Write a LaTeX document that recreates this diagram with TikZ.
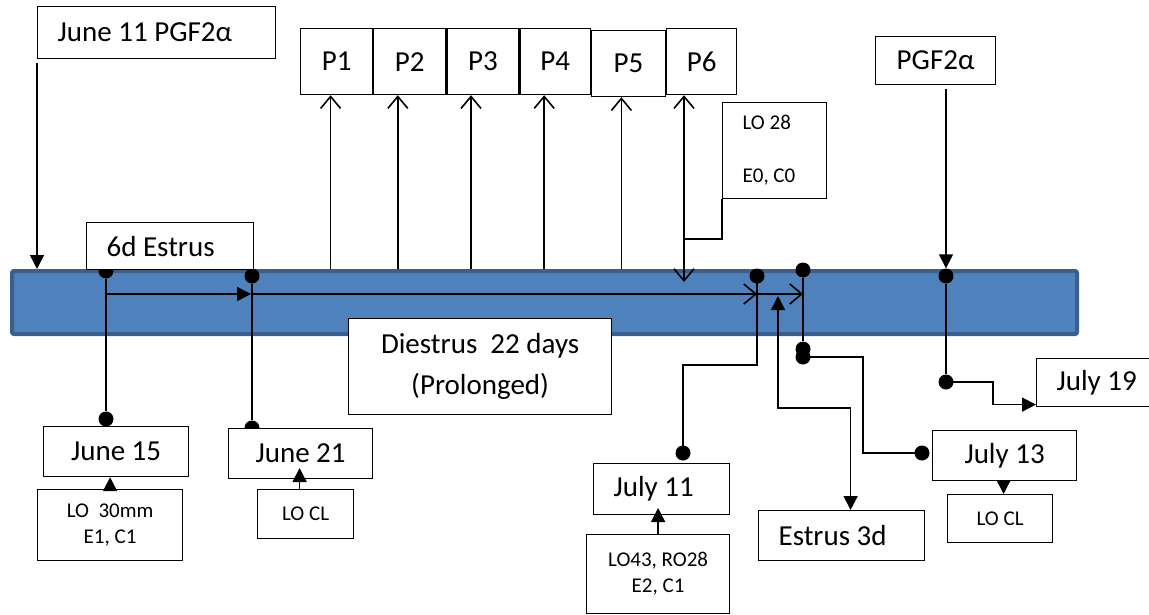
\documentclass[tikz,border=0pt]{standalone}
\usepackage{fontspec}
\setmainfont{Carlito}
\usetikzlibrary{positioning,arrows.meta}
\definecolor{barFill}{HTML}{4F81BD}
\definecolor{barLine}{HTML}{3B5E8C}
\newcommand\dateFont{\fontsize{29}{34}\selectfont}
\newcommand\noteFont{\fontsize{21}{26}\selectfont}
\pgfdeclarelayer{barlayer}
\pgfdeclarelayer{linelayer}
\pgfsetlayers{barlayer,linelayer,main}
\tikzset{
  cycle bar/.style={
    rectangle, rounded corners=2pt,
    draw=barLine, fill=barFill, line width=4pt,
    inner sep=0pt, anchor=north west,
  },
  date box/.style={
    rectangle, draw=black, fill=white, line width=1.2pt,
    font=\dateFont, inner sep=0pt, anchor=north west,
  },
  left box/.style={date box, inner xsep=20pt, align=flush left},
  note box/.style={date box, font=\noteFont, align=center},
  conn/.style={line width=1.6pt},
  solid tip/.style={conn, -{Triangle[length=14pt,width=14pt]}},
  solid both/.style={conn, {Triangle[length=14pt,width=14pt]}-{Triangle[length=14pt,width=14pt]}},
  barb tip/.style={conn, -{Straight Barb[length=12pt,width=20pt]}},
  barb both/.style={conn, {Straight Barb[length=12pt,width=20pt]}-{Straight Barb[length=12pt,width=20pt]}},
  dot/.style={circle, fill=black, inner sep=0pt, minimum size=15pt},
}

\begin{document}
\begin{tikzpicture}[x=1pt, y=-1pt]
\useasboundingbox (0,0) rectangle (1149,615);

% --- top boxes ---
\node[left box, text width=198pt, minimum height=52pt] (june11) at (37,6) {June 11 PGF2α};
\node[left box, text width=127pt, minimum height=47pt] (estrus6) at (86,222) {6d Estrus};
\node[date box, minimum width=72pt, minimum height=66pt] (p1) at (300,28) {P1};
\node[date box, minimum width=72pt, minimum height=66pt, right=0pt of p1] (p2) {P2};
\node[date box, minimum width=72pt, minimum height=66pt, right=0pt of p2] (p3) {P3};
\node[date box, minimum width=70pt, minimum height=66pt, right=0pt of p3] (p4) {P4};
\node[date box, minimum width=74pt, minimum height=66pt, right=0pt of p4, yshift=-2pt] (p5) {P5};
\node[date box, minimum width=70pt, minimum height=66pt, right=0pt of p5, yshift=2pt] (p6) {P6};
\node[left box, font=\noteFont, text width=64pt, minimum height=96pt] (lo28) at (722,102) {LO 28\\[27pt]E0, C0};
\node[date box, minimum width=120pt, minimum height=48pt] (pgfR) at (875,36) {PGF2α};

% --- middle and bottom boxes ---
\node[date box, align=center, minimum width=263pt, minimum height=96pt] (diestrus) at (348,318) {Diestrus\ \ 22 days\\[7pt](Prolonged)};
\node[date box, minimum width=145pt, minimum height=50pt] (j15) at (43,426) {June 15};
\node[note box, minimum width=145pt, minimum height=71pt] (lo30) at (37,489) {LO\ \ 30mm\\E1, C1};
\node[date box, minimum width=144pt, minimum height=50pt] (j21) at (228,428) {June 21};
\node[note box, minimum width=96pt, minimum height=49pt] (locl1) at (257,489) {LO CL};
\node[left box, text width=96pt, minimum height=51pt] (j11) at (593,463) {July 11};
\node[note box, minimum width=143pt, minimum height=79pt] (lo43) at (586,534) {LO43, RO28\\E2, C1};
\node[left box, text width=126pt, minimum height=50pt] (estrus3) at (758,510) {Estrus 3d};
\node[date box, minimum width=144pt, minimum height=50pt] (j13) at (932,430) {July 13};
\node[note box, minimum width=105pt, minimum height=48pt] (locl2) at (947,494) {LO CL};
\node[left box, text width=90pt, minimum height=48pt] (j19) at (1036,358) {July 19};

% --- the cycle bar ---
\begin{pgfonlayer}{barlayer}
\node[cycle bar, minimum width=1065pt, minimum height=63pt] (bar) at (10,269) {};
\end{pgfonlayer}

\begin{pgfonlayer}{linelayer}
% dots
\node[dot] (e6dot) at (106,271) {};
\node[dot] (j15dot) at (106,419) {};
\node[dot] (j21top) at (252,276) {};
\node[dot] (j21dot) at (252,428) {};
\node[dot] (j11top) at (757,276) {};
\node[dot] (j11dot) at (683,453) {};
\node[dot] (e3top) at (803,270) {};
\node[dot] (e3mid) at (803,349) {};
\node[dot] (e3low) at (803,357) {};
\node[dot] (j13dot) at (922,453) {};
\node[dot] (pgtop) at (946,276) {};
\node[dot] (pgbot) at (946,382) {};
\coordinate (t0) at (106,294);
\coordinate (t1) at (251,294);
\coordinate (t2) at (757,294);
\coordinate (t3) at (803,294);
\coordinate (p6tip) at (684,282);
\coordinate (p6join) at (684,239);
\coordinate (e3tip) at (778,296);

% PGF2a shots onto the bar
\draw[solid tip] ([yshift=-4pt]june11.south west) -- (june11.south west |- bar.north);
\draw[solid tip] ([yshift=-4pt]pgfR.south -| pgtop) -- (pgtop.north);

% timeline along the bar
\draw[solid tip] (t0) -- (t1);
\draw[barb tip] (t1) -- (t2);
\draw[barb tip] (t2) -- (t3);

% P checks
\foreach \i/\dx in {1/-6,2/-12,3/-12,4/-11,5/-7}
  \draw[barb tip] ([xshift=\dx pt]p\i.south |- bar.north) -- ([xshift=\dx pt]p\i.south);
\draw[barb both] (p6.south -| p6tip) -- (p6tip);
\draw[conn] (lo28.south west) |- (p6join);

% dates below the bar
\draw[conn] (e6dot) -- (j15dot);
\draw[conn] (j21top) -- (j21dot);
\draw[conn] (j11top.center) -- ++(0,89) -| (j11dot.center);
\draw[solid both] ([xshift=9pt]estrus3.north) -- ++(0,-102) -| (e3tip);
\draw[conn] (e3top) -- (e3mid);
\draw[conn] (e3low.center) -- ++(60,0) |- (j13dot.center);
\draw[conn] (pgtop) -- (pgbot);
\draw[solid tip] (pgbot.center) -- ++(47,0) |- ([yshift=-22pt]j19.west);
\end{pgfonlayer}

% notes under the dates
\draw[solid tip] (lo30.north) -- (lo30.north |- j15.south);
\draw[solid tip] ([xshift=-6pt]locl1.north) -- ++(0,-21);
\draw[solid tip] (lo43.north) -- ++(0,-26);
\draw[solid tip] ([xshift=-1pt]j13.south) -- ([xshift=-1pt]j13.south |- locl2.north);

\end{tikzpicture}
\end{document}
